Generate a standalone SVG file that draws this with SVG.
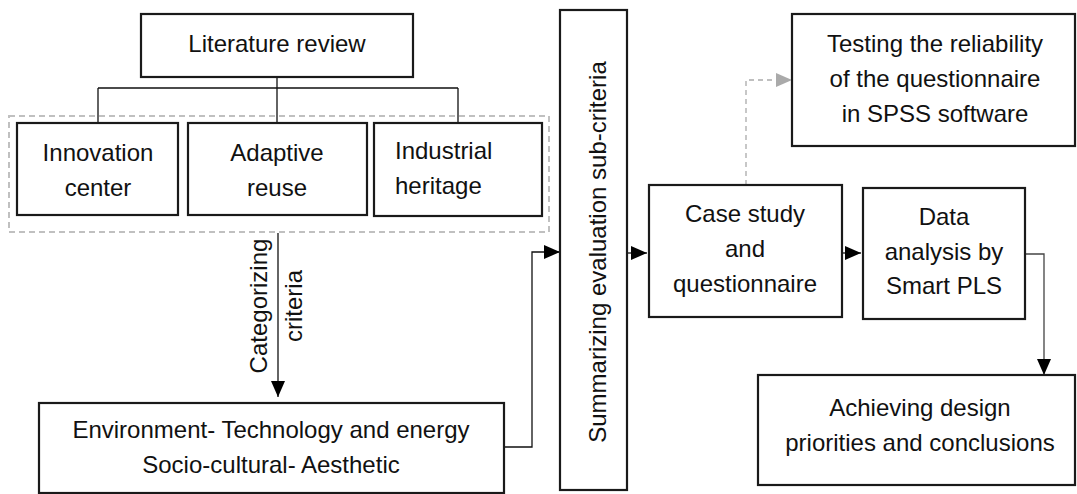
<svg xmlns="http://www.w3.org/2000/svg" width="1077" height="494" viewBox="0 0 1077 494">
<style>
.box{fill:#fff;stroke:#1a1a1a;stroke-width:2.2}
.t{font-family:"Liberation Sans",Arial,sans-serif;font-size:24px;fill:#111}
.c{text-anchor:middle}
.ln{fill:none;stroke:#111;stroke-width:1.3}
.gl{fill:none;stroke:#444;stroke-width:1.3}
.dash{fill:none;stroke:#aaa;stroke-width:1.3;stroke-dasharray:5 4}
</style>
<defs>
<marker id="ah" markerUnits="userSpaceOnUse" markerWidth="16" markerHeight="14" refX="16" refY="7" orient="auto"><path d="M0,0 L16,7 L0,14 z" fill="#000"/></marker>
<marker id="ahg" markerUnits="userSpaceOnUse" markerWidth="16" markerHeight="14" refX="16" refY="7" orient="auto"><path d="M0,0 L16,7 L0,14 z" fill="#aaa"/></marker>
</defs>
<rect x="9" y="116" width="540" height="116" fill="none" stroke="#c0c0c0" stroke-width="2" stroke-dasharray="6 4"/>
<g id="connectors">
<path class="ln" d="M277,77 V88 M98,88 H458 M98,88 V123 M277,88 V123 M458,88 V123"/>
<path class="ln" d="M278,233 V397" marker-end="url(#ah)"/>
<path class="ln" d="M504,447 H532 V252 H560" marker-end="url(#ah)"/>
<path class="ln" d="M627,253 H647" marker-end="url(#ah)"/>
<path class="ln" d="M842,253 H861" marker-end="url(#ah)"/>
<path class="gl" d="M1025,254 H1044 V375" marker-end="url(#ah)"/>
<path class="dash" d="M746,185 V80 H792" marker-end="url(#ahg)"/>
</g>
<g id="literature">
<rect class="box" x="141" y="14" width="272" height="63"/>
<text class="t c" x="277" y="52">Literature review</text>
</g>
<g id="innovation">
<rect class="box" x="17" y="123" width="161" height="92"/>
<text class="t c" x="98" y="161">Innovation</text>
<text class="t c" x="98" y="196">center</text>
</g>
<g id="adaptive">
<rect class="box" x="188" y="123" width="179" height="92"/>
<text class="t c" x="277" y="161">Adaptive</text>
<text class="t c" x="277" y="196">reuse</text>
</g>
<g id="industrial">
<rect class="box" x="374" y="123" width="168" height="93"/>
<text class="t" x="395" y="159">Industrial</text>
<text class="t" x="395" y="194">heritage</text>
</g>
<g id="categorizing-label">
<text class="t c" transform="translate(267,306) rotate(-90)">Categorizing</text>
<text class="t c" transform="translate(302,306) rotate(-90)">criteria</text>
</g>
<g id="environment">
<rect class="box" x="39" y="403" width="465" height="90"/>
<text class="t c" x="271" y="438">Environment- Technology and energy</text>
<text class="t c" x="271" y="473">Socio-cultural- Aesthetic</text>
</g>
<g id="summarizing">
<rect class="box" x="560" y="10" width="67" height="480"/>
<text class="t c" transform="translate(606,252) rotate(-90)">Summarizing evaluation sub-criteria</text>
</g>
<g id="case">
<rect class="box" x="649" y="185" width="193" height="132"/>
<text class="t c" x="745" y="222">Case study</text>
<text class="t c" x="745" y="257">and</text>
<text class="t c" x="745" y="292">questionnaire</text>
</g>
<g id="data">
<rect class="box" x="863" y="188" width="162" height="131"/>
<text class="t c" x="944" y="225">Data</text>
<text class="t c" x="944" y="260">analysis by</text>
<text class="t c" x="944" y="294">Smart PLS</text>
</g>
<g id="testing">
<rect class="box" x="792" y="14" width="283" height="132"/>
<text class="t c" x="935" y="52">Testing the reliability</text>
<text class="t c" x="935" y="87">of the questionnaire</text>
<text class="t c" x="935" y="122">in SPSS software</text>
</g>
<g id="achieving">
<rect class="box" x="758" y="375" width="317" height="110"/>
<text class="t c" x="920" y="416">Achieving design</text>
<text class="t c" x="920" y="451">priorities and conclusions</text>
</g>
</svg>
